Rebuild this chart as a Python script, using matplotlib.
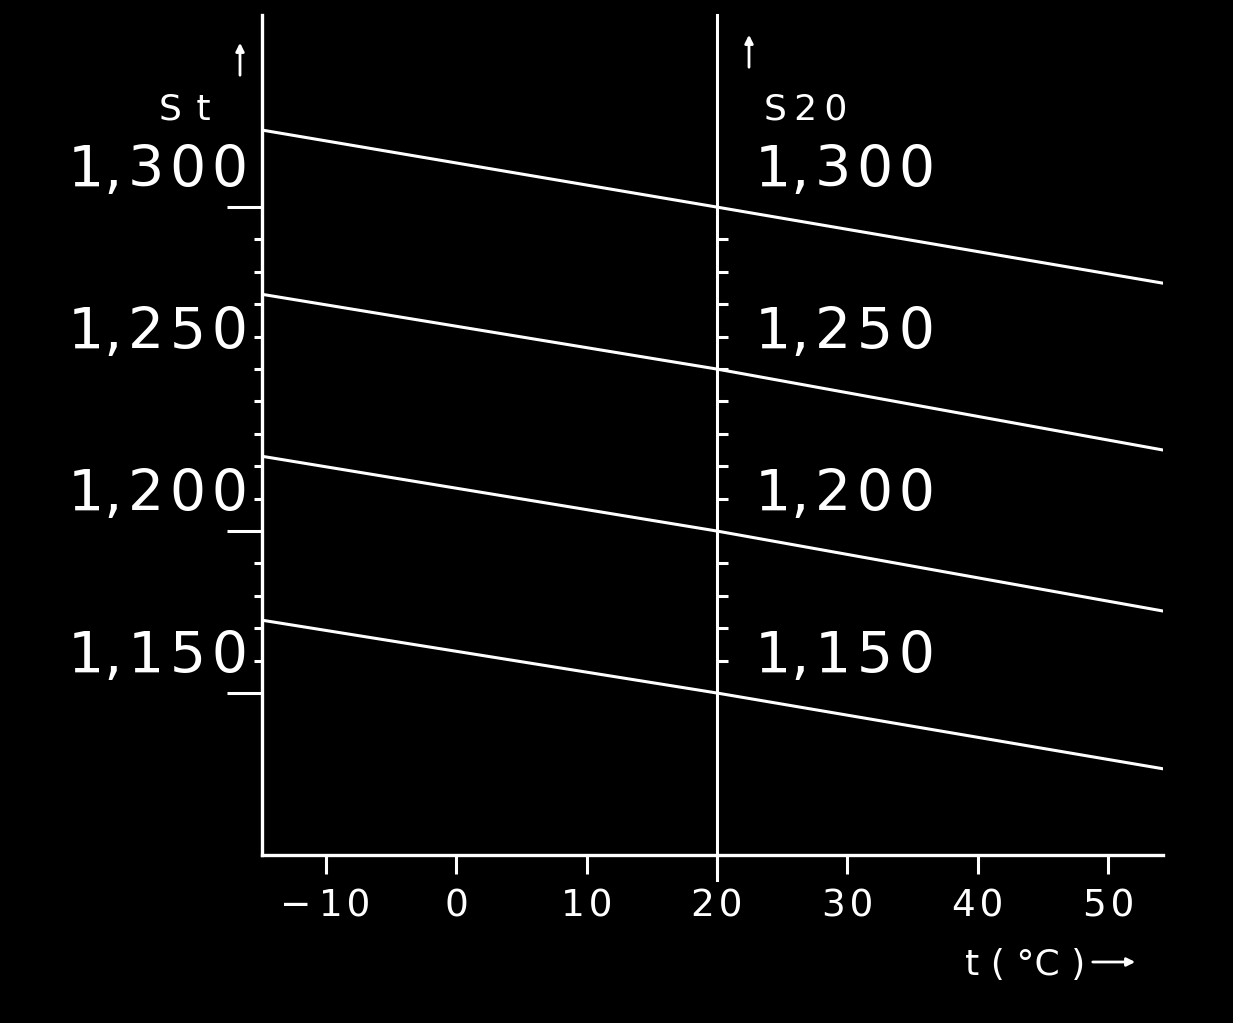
import matplotlib
matplotlib.use("Agg")
import matplotlib.pyplot as plt
from matplotlib import transforms
from matplotlib.markers import TICKRIGHT

# data
t_ref = 20
t_pts = [-14.9, 20, 54.2]
s20_labels = ["1,\u200a3\u200a0\u200a0", "1,\u200a2\u200a5\u200a0",
              "1,\u200a2\u200a0\u200a0", "1,\u200a1\u200a5\u200a0"]
s20_vals = [1.300, 1.250, 1.200, 1.150]
s_curves = [
    [1.3238, 1.300, 1.2765],
    [1.2731, 1.250, 1.2250],
    [1.2231, 1.200, 1.1753],
    [1.1725, 1.150, 1.1266],
]
x_ticks = [-10, 0, 10, 20, 30, 40, 50]
x_ticklabels = ["\u2212\u20091\u200a0", "0", "1\u200a0", "2\u200a0", "3\u200a0", "4\u200a0", "5\u200a0"]
y_major = [1.15, 1.20, 1.30]
y_minor = [1.16, 1.17, 1.18, 1.19, 1.21, 1.22, 1.23, 1.24, 1.25,
           1.26, 1.27, 1.28, 1.29]

plt.rcParams['font.family'] = ['DejaVu Sans']
W, H = 1233, 1023
fig = plt.figure(figsize=(W / 100, H / 100), dpi=100, facecolor='black')
ax = fig.add_axes([262 / W, 1 - 855 / H, 901 / W, 840 / H])
ax.set_facecolor('black')
ax.set_xlim(-14.87, 54.18)
ax.set_ylim(1.100, 1.3593)

for s in ['top', 'right']:
    ax.spines[s].set_visible(False)
for s in ['left', 'bottom']:
    ax.spines[s].set_color('white')
    ax.spines[s].set_linewidth(2.4)

# curves
for ys in s_curves:
    ax.plot(t_pts, ys, color='white', lw=2.2, solid_capstyle='round')

# middle (t = 20) axis with ticks on its right side
ax.axvline(t_ref, ymin=-0.03, ymax=1, color='white', lw=2.2, clip_on=False)
ax.plot([t_ref] * len(y_minor), y_minor, ls='none', marker=TICKRIGHT,
        ms=8, mew=2.2, color='white')

# x ticks
ax.set_xticks(x_ticks)
ax.set_xticklabels(x_ticklabels, fontsize=27, color='white')
ax.tick_params(axis='x', direction='out', length=14, width=2.2,
               colors='white', pad=10)

# y ticks on left axis
ax.set_yticks(y_major)
ax.set_yticklabels([])
ax.set_yticks(y_minor, minor=True)
ax.tick_params(axis='y', which='major', direction='out', length=25, width=2.2,
               colors='white')
ax.tick_params(axis='y', which='minor', direction='out', length=6, width=2.2,
               colors='white')

# scale labels on both vertical axes
tr_left = transforms.offset_copy(ax.transData, fig=fig, x=-14, y=36, units='dots')
tr_mid = transforms.offset_copy(ax.transData, fig=fig, x=38, y=36, units='dots')
x0 = ax.get_xlim()[0]
for lab, v in zip(s20_labels, s20_vals):
    ax.text(x0, v, lab, transform=tr_left, ha='right', va='center',
            fontsize=41, color='white')
    ax.text(t_ref, v, lab, transform=tr_mid, ha='left', va='center',
            fontsize=41, color='white')

# axis captions and arrows
fig.text(185 / W, 1 - 110 / H, "S\u2009\u2009t", ha='center', va='center',
         fontsize=26, color='white')
fig.text(806 / W, 1 - 110 / H, "S\u20092\u20090", ha='center', va='center',
         fontsize=26, color='white')
for ax_x, y_top, y_bot in [(240, 40, 78), (749, 32, 70)]:
    fig.add_artist(matplotlib.patches.FancyArrowPatch(
        (ax_x / W, 1 - y_bot / H), (ax_x / W, 1 - y_top / H),
        transform=fig.transFigure, arrowstyle='-|>', mutation_scale=12,
        color='white', lw=2))
fig.text(1025 / W, 1 - 965 / H, "t ( \u00b0C )", ha='center', va='center',
         fontsize=26, color='white')
fig.add_artist(matplotlib.patches.FancyArrowPatch(
    (1090 / W, 1 - 962 / H), (1138 / W, 1 - 962 / H),
    transform=fig.transFigure, arrowstyle='-|>', mutation_scale=12,
    color='white', lw=2))

fig.savefig('out.png', dpi=100, facecolor='black')
